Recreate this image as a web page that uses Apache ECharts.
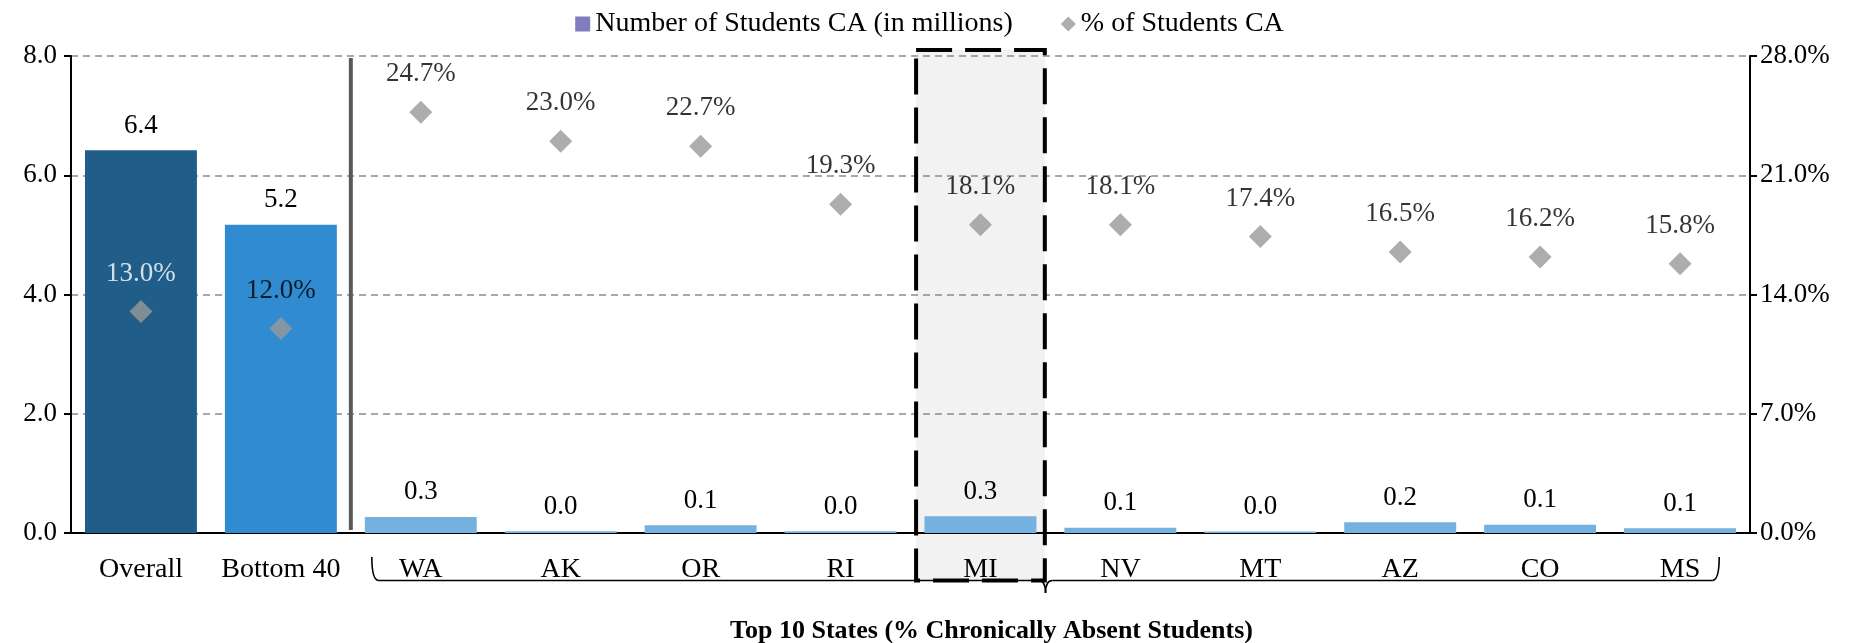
<!DOCTYPE html>
<html><head><meta charset="utf-8">
<script src="https://cdn.jsdelivr.net/npm/echarts@6/dist/echarts.min.js"></script>
<style>html,body{margin:0;padding:0;background:#fff}#c{width:1859px;height:643px}</style>
</head><body><div id="c"></div>
<script>
// ---- data ----
const categories = ['Overall', 'Bottom 40', 'WA', 'AK', 'OR', 'RI', 'MI', 'NV', 'MT', 'AZ', 'CO', 'MS'];
const studentsCA = [6.42, 5.17, 0.27, 0.03, 0.13, 0.03, 0.28, 0.09, 0.025, 0.18, 0.14, 0.08];
const pctCA = [13.0, 12.0, 24.7, 23.0, 22.7, 19.3, 18.1, 18.1, 17.4, 16.5, 16.2, 15.8];
const leftTicks = [0, 2, 4, 6, 8];
const rightTicks = [0, 7, 14, 21, 28];
const seriesNames = ['Number of Students CA (in millions)', '% of Students CA'];
const groupTitle = 'Top 10 States (% Chronically Absent Students)';
const highlighted = 'MI';

// ---- styling ----
const FONT = '"Liberation Serif", "DejaVu Serif", serif';
const FS = 27;
const barColor = i => i === 0 ? '#205E89' : (i === 1 ? '#318BD0' : '#74B1DF');

const chart = echarts.init(document.getElementById('c'), null, {renderer: 'canvas'});
const option = {
  animation: false,
  textStyle: {fontFamily: FONT},
  grid: {left: 71, right: 109, top: 56, bottom: 110},
  legend: {
    top: 5, left: 'center', itemGap: 48, itemWidth: 15, itemHeight: 15,
    textStyle: {fontSize: 28, color: '#000', fontFamily: FONT},
    data: [
      {name: seriesNames[0], icon: 'rect', itemStyle: {color: '#7F7FBF'}},
      {name: seriesNames[1], icon: 'diamond', itemStyle: {color: '#999999'}}
    ]
  },
  xAxis: {
    type: 'category', data: categories,
    axisLine: {lineStyle: {color: '#000', width: 2}},
    axisTick: {length: 7, lineStyle: {color: '#000', width: 2}},
    axisLabel: {color: '#000', fontSize: 28, margin: 23, interval: 0, fontFamily: FONT}
  },
  yAxis: [{
    type: 'value', min: leftTicks[0], max: leftTicks[leftTicks.length - 1], interval: leftTicks[1] - leftTicks[0],
    axisLine: {show: true, lineStyle: {color: '#000', width: 2}},
    axisTick: {show: true, length: 7, lineStyle: {color: '#000', width: 2}},
    axisLabel: {formatter: v => v.toFixed(1), fontSize: FS, color: '#000', margin: 14, fontFamily: FONT},
    splitLine: {show: true, lineStyle: {type: [7, 5], color: '#8a8a8a', width: 1.5}}
  }, {
    type: 'value', position: 'right', min: rightTicks[0], max: rightTicks[rightTicks.length - 1], interval: rightTicks[1] - rightTicks[0],
    axisLine: {show: true, lineStyle: {color: '#000', width: 2}},
    axisTick: {show: true, length: 7, lineStyle: {color: '#000', width: 2}},
    axisLabel: {formatter: v => v.toFixed(1) + '%', fontSize: FS, color: '#000', margin: 10, fontFamily: FONT},
    splitLine: {show: false}
  }],
  series: [{
    type: 'bar', name: seriesNames[0], barCategoryGap: '20%', z: 3,
    data: studentsCA.map((v, i) => ({value: v, itemStyle: {color: barColor(i)}})),
    label: {show: true, position: 'top', distance: 11, fontSize: FS, color: '#000', fontFamily: FONT,
      formatter: p => p.value.toFixed(1)}
  }, {
    type: 'scatter', name: seriesNames[1], yAxisIndex: 1, symbol: 'diamond', symbolSize: 23, z: 4,
    itemStyle: {color: '#999999'},
    data: pctCA.map((v, i) => ({value: v, label: {color: i === 0 ? '#fff' : '#000'}})),
    label: {show: true, position: 'top', distance: 13, fontSize: FS, fontFamily: FONT,
      formatter: p => p.value.toFixed(1) + '%'}
  }]
};
chart.setOption(option);

// ---- decorations placed from the axes' own scales ----
const px = c => chart.convertToPixel({xAxisIndex: 0}, c);
const py = v => chart.convertToPixel({yAxisIndex: 0}, v);
const band = px(categories[3]) - px(categories[2]);
const yTop = py(leftTicks[leftTicks.length - 1]);
const yBot = py(0);
const sepX = (px(categories[1]) + px(categories[2])) / 2;
const miX = px(highlighted);
const left = px(categories[2]) - band * 0.35;
const right = px(categories[categories.length - 1]) + band * 0.28;
const mid = (left + right) / 2;
const yLine = yBot + 47.5, yEnd = yBot + 24, yCusp = yBot + 60;
const r = 7;
const boxHalf = band * 0.46;
const braceStyle = {fill: null, stroke: '#000', lineWidth: 1.6};
const curve = (x1, y1, cx, cy, x2, y2) => ({type: 'bezierCurve', z: 10, silent: true,
  shape: {x1: x1, y1: y1, x2: x2, y2: y2, cpx1: cx, cpy1: cy}, style: braceStyle});
const seg = (x1, y1, x2, y2) => ({type: 'line', z: 10, silent: true,
  shape: {x1: x1, y1: y1, x2: x2, y2: y2}, style: braceStyle});

chart.setOption({
  graphic: [
    {type: 'rect', z: -1, silent: true,
      shape: {x: miX - boxHalf, y: yTop - 6, width: boxHalf * 2, height: yLine - (yTop - 6)},
      style: {fill: '#F2F2F2', stroke: null}},
    {type: 'rect', z: 10, silent: true,
      shape: {x: miX - boxHalf, y: yTop - 6, width: boxHalf * 2, height: yLine - (yTop - 6)},
      style: {fill: null, stroke: '#000', lineWidth: 4, lineDash: [36, 13]}},
    {type: 'line', z: 10, silent: true,
      shape: {x1: sepX, y1: yTop + 2, x2: sepX, y2: yBot - 3},
      style: {stroke: '#595959', lineWidth: 4}},
    curve(left, yEnd, left, yLine, left + r, yLine),
    seg(left + r, yLine, mid - r, yLine),
    curve(mid - r, yLine, mid, yLine, mid, yCusp),
    curve(mid, yCusp, mid, yLine, mid + r, yLine),
    seg(mid + r, yLine, right - r, yLine),
    curve(right - r, yLine, right, yLine, right, yEnd),
    {type: 'text', z: 10, silent: true, x: mid - 54, y: 631,
      style: {text: groupTitle, fontSize: 26, fontWeight: 'bold', fontFamily: FONT, fill: '#000',
        align: 'center', verticalAlign: 'middle'}}
  ]
});
</script>
</body></html>
